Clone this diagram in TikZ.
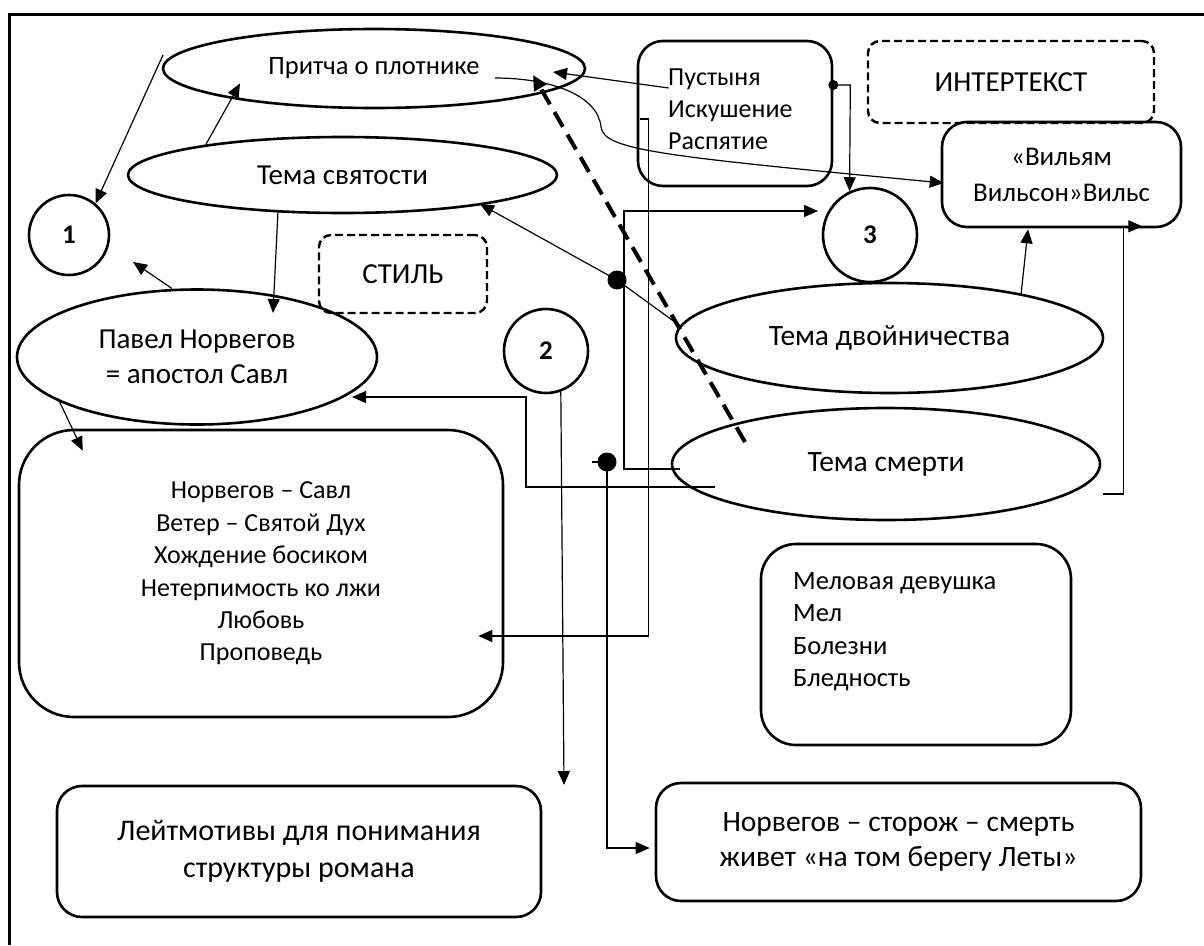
\documentclass[tikz,border=0pt]{standalone}
\usepackage{fontspec}
\setmainfont{Carlito}
\usetikzlibrary{shapes.geometric,arrows.meta,calc}
\begin{document}
\begin{tikzpicture}[x=1pt,y=-1pt,
  shp/.style={draw, line width=2.6pt},
  ell/.style={shp, ellipse, inner sep=0pt},
  rbox/.style={shp, rectangle, rounded corners=#1, inner sep=0pt},
  rbox/.default=25pt,
  dbox/.style={draw, line width=2.4pt, dash pattern=on 8pt off 4pt, rectangle, rounded corners=12pt, inner sep=0pt},
  circ/.style={shp, circle, inner sep=0pt, font=\fontsize{27pt}{30pt}\selectfont\bfseries},
  conn/.style={line width=1.2pt},
  arr/.style={conn, -{Triangle[length=14pt,width=12pt]}},
  thickdash/.style={line width=4pt, dash pattern=on 17pt off 9pt, -{Triangle[length=15pt,width=14pt]}},
  dotr/.style={fill=black}
]
\useasboundingbox (0,0) rectangle (1204,945);
% frame
\draw[line width=3pt] (9,945) -- (9,14) -- (1204,14);

% shapes
\node[ell, minimum width=422pt, minimum height=79pt, font=\fontsize{26.5pt}{30pt}\selectfont] (pritcha) at (374,68.5) {Притча о плотнике};
\node[ell, minimum width=429pt, minimum height=76pt, font=\fontsize{29pt}{32pt}\selectfont] (svyat) at (342.5,175) {Тема святости};
\node[circ, minimum size=80pt] (c1) at (69,235) {1};
\node[ell, minimum width=360pt, minimum height=135pt, align=center, font=\fontsize{29pt}{35pt}\selectfont] (pavel) at (197,357) {Павел Норвегов\\= апостол Савл};
\node[dbox, minimum width=168pt, minimum height=78pt, font=\fontsize{29pt}{30pt}\selectfont] (stil) at (403,274) {СТИЛЬ};
\node[rbox=55pt, minimum width=484pt, minimum height=287pt, align=center, font=\fontsize{26pt}{32.4pt}\selectfont] (bigbox) at (261,573.5) {Норвегов – Савл\\Ветер – Святой Дух\\Хождение босиком\\Нетерпимость ко лжи\\Любовь\\Проповедь};
\node[circ, minimum size=84pt] (c2) at (546,351) {2};
\node[rbox=25pt, minimum width=194pt, minimum height=145pt] (pust) at (735,113.5) {};
\node[anchor=west, align=left, inner sep=0pt, font=\fontsize{26pt}{32pt}\selectfont] (pusttxt) at (668,109.5) {Пустыня\\Искушение\\Распятие};
\node[dbox, minimum width=286pt, minimum height=82pt, font=\fontsize{29pt}{30pt}\selectfont] (inter) at (1011,82) {ИНТЕРТЕКСТ};
\node[rbox=25pt, minimum width=239pt, minimum height=105pt, align=center, font=\fontsize{27pt}{36pt}\selectfont] (vil) at (1061.5,174.5) {«Вильям\\Вильсон»Вильс};
\node[circ, minimum size=94pt] (c3) at (870,235) {3};
\node[ell, minimum width=427pt, minimum height=110pt, font=\fontsize{29.5pt}{32pt}\selectfont] (dvoin) at (889.5,338) {Тема двойничества};
\node[ell, minimum width=428pt, minimum height=112pt, font=\fontsize{29.5pt}{32pt}\selectfont] (smert) at (886,464) {Тема смерти};
\node[rbox=35pt, minimum width=310pt, minimum height=201pt] (melov) at (916,644.5) {};
\node[anchor=west, align=left, inner sep=0pt, font=\fontsize{26.5pt}{32.4pt}\selectfont] (melovtxt) at (793,631.5) {Меловая девушка\\Мел\\Болезни\\Бледность};
\node[rbox=25pt, minimum width=484pt, minimum height=131pt, align=center, font=\fontsize{30pt}{36.5pt}\selectfont] (leit) at (299,851.5) {Лейтмотивы для понимания\\структуры романа};
\node[rbox=25pt, minimum width=485pt, minimum height=118pt, align=center, font=\fontsize{29.5pt}{35.5pt}\selectfont] (norv) at (898.5,842) {Норвегов – сторож – смерть\\живет «на том берегу Леты»};

% connectors
\coordinate (s1) at (163,55);
\draw[arr] (s1) -- (c1.50);
\draw[arr] ($(svyat)+(-137.5,-29)$) -- ($(pritcha)+(-134,15)$);
\draw[arr] ($(svyat)+(-64.5,36)$) -- ($(pavel)+(76,-44)$);
\coordinate (e4) at (133,262);
\draw[arr] ($(pavel)+(-25,-68.5)$) -- (e4);
\draw[arr] ($(pavel)+(-139,41.5)$) -- ($(bigbox.north west)+(65,22)$);
\draw[arr] ($(smert)+(-171,23)$) -- ++(-189,0) |- ($(pavel)+(155,40)$);
\draw[arr] ($(smert)+(-206,5)$) -- ++(-56,0) |- ($(c3)+(-52,-24)$);
\draw[arr] ($(pust.west)+(3,5.5)$) -- ++(9,0) |- ($(bigbox.east)+(-26,62.5)$);
\draw[arr] ($(pust.west)+(32,-25.5)$) -- ($(pritcha)+(179,3.5)$);
\draw[arr] ($(pritcha)+(121,9.5)$) .. controls (550,78) and (598,95) .. (601,127)
   .. controls (604,150) and (660,156) .. ($(vil.west)+(3,8.5)$);
\coordinate (d11) at ($(pust.east)+(0,-28.5)$);
\fill[dotr] (d11) circle (5pt);
\draw[arr] (d11) -- ++(17,0) -- (c3.115);
\draw[arr] ($(dvoin)+(131.5,-43)$) -- ($(vil.south)+(-33.5,1)$);
\draw[arr] ($(smert.east)+(2,30)$) -- ++(20,0) |- ($(vil.south east)+(-40,-2)$);
\coordinate (d14) at (617,280);
\draw[arr] ($(dvoin.west)+(7,-11)$) -- (d14) -- ($(svyat)+(137.5,29)$);
\fill[dotr] (d14) circle (9.5pt);
\draw[thickdash] ($(smert)+(-141,-22)$) -- ($(pritcha)+(159,6.5)$);
\coordinate (d16) at (607,462);
\draw[conn] (d16) -- ++(-15,0);
\draw[arr] (d16) |- ($(norv.west)+(-5,6)$);
\fill[dotr] (d16) circle (9.5pt);
\coordinate (e17) at (564,785);
\draw[arr] (c2.-70) -- (e17);
\end{tikzpicture}
\end{document}
